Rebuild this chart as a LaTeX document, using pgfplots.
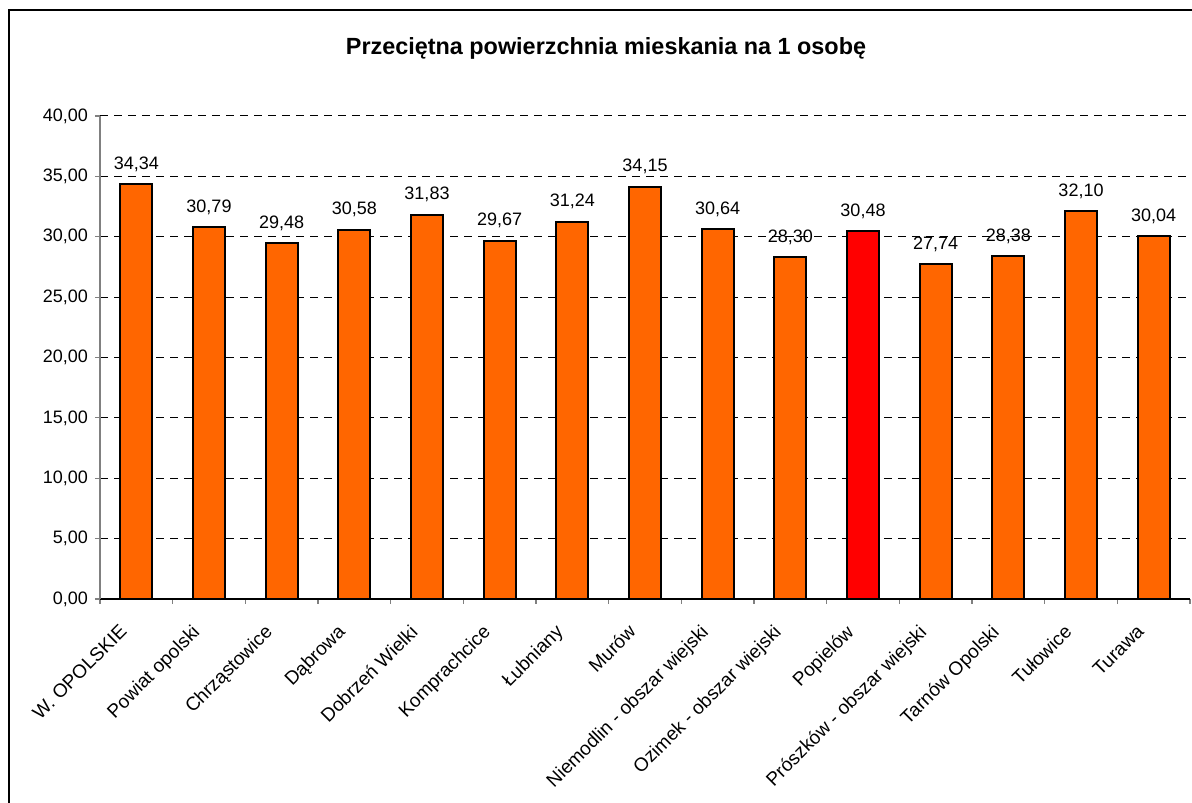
\documentclass[border=0pt]{standalone}
\usepackage{pgfplots}
\pgfplotsset{compat=1.18}
\usepackage{fontspec}
\setmainfont{Liberation Sans}
\definecolor{barorange}{HTML}{FF6600}
\definecolor{barred}{HTML}{FF0000}

\begin{document}
\begin{tikzpicture}
\useasboundingbox (0,0) rectangle (596pt,401pt);
% chart frame (clipped on the right and bottom in the reference)
\draw[line width=1pt] (4.5pt,-2pt) -- (4.5pt,396pt) -- (600pt,396pt);
\node[font=\bfseries\fontsize{11.7}{14}\selectfont] at (303pt,377pt)
  {Przeciętna powierzchnia mieskania na 1 osobę};
\begin{axis}[
  at={(50pt,101.5pt)}, anchor=south west,
  scale only axis, width=545pt, height=241.5pt,
  ybar, bar shift=0pt, bar width=16pt,
  xmin=-0.5, xmax=14.5, ymin=0, ymax=40,
  enlargelimits=false,
  axis x line*=bottom, axis y line*=left,
  x axis line style={black, line width=0.8pt},
  y axis line style={gray, line width=0.8pt},
  ytick={0,5,...,40},
  xtick={0,...,14},
  xticklabels={W. OPOLSKIE, Powiat opolski, Chrząstowice, Dąbrowa, Dobrzeń Wielki,
    Komprachcice, Łubniany, Murów, Niemodlin - obszar wiejski, Ozimek - obszar wiejski,
    Popielów, Prószków - obszar wiejski, Tarnów Opolski, Tułowice, Turawa},
  minor xtick={-0.5,0.5,...,14.5},
  major x tick style={draw=none},
  minor x tick style={gray, line width=0.6pt},
  y tick style={gray, line width=0.6pt},
  tick align=outside,
  major tick length=2.5pt, minor tick length=2.5pt,
  xticklabel style={shift={(-9pt,-8pt)}, rotate=45, anchor=north east, inner sep=1pt,
    font=\fontsize{9.5}{11}\selectfont},
  yticklabel style={font=\fontsize{9}{11}\selectfont},
  ymajorgrids,
  major grid style={black, line width=0.5pt, dash pattern=on 4pt off 3pt},
  /pgf/number format/assume math mode=true,
  /pgf/number format/.cd, use comma, fixed, fixed zerofill, precision=2,
  /pgfplots/.cd,
  nodes near coords,
  every node near coord/.append style={font=\fontsize{9}{11}\selectfont, yshift=2.5pt},
  clip=false,
]
\addplot[fill=barorange, draw=black, line width=0.9pt] coordinates {
  (0,34.34) (1,30.79) (2,29.48) (3,30.58) (4,31.83) (5,29.67) (6,31.24)
  (7,34.15) (8,30.64) (9,28.30) (11,27.74) (12,28.38) (13,32.10) (14,30.04)
};
\addplot[fill=barred, draw=black, line width=0.9pt] coordinates {(10,30.48)};
\end{axis}
\end{tikzpicture}
\end{document}
